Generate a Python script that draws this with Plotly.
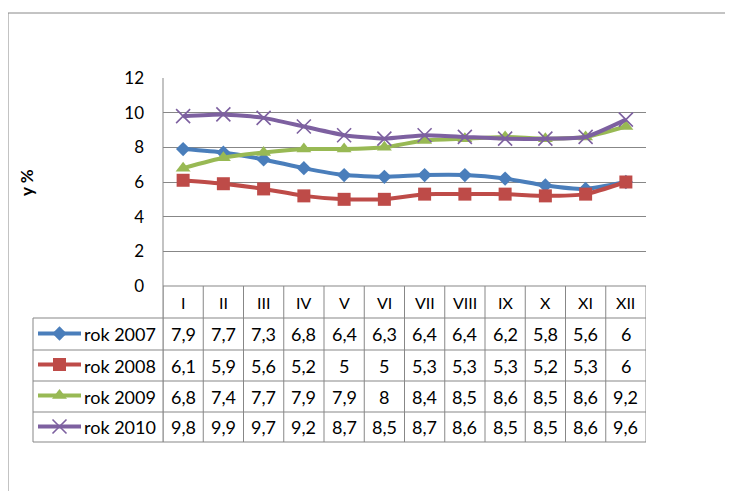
import plotly.graph_objects as go

months = ["I", "II", "III", "IV", "V", "VI", "VII", "VIII", "IX", "X", "XI", "XII"]
series_names = ["rok 2007", "rok 2008", "rok 2009", "rok 2010"]
rok_2007 = [7.9, 7.7, 7.3, 6.8, 6.4, 6.3, 6.4, 6.4, 6.2, 5.8, 5.6, 6]
rok_2008 = [6.1, 5.9, 5.6, 5.2, 5, 5, 5.3, 5.3, 5.3, 5.2, 5.3, 6]
rok_2009 = [6.8, 7.4, 7.7, 7.9, 7.9, 8, 8.4, 8.5, 8.6, 8.5, 8.6, 9.2]
rok_2010 = [9.8, 9.9, 9.7, 9.2, 8.7, 8.5, 8.7, 8.6, 8.5, 8.5, 8.6, 9.6]
y_ticks = [0, 2, 4, 6, 8, 10, 12]
y_title = "y %"

all_series = [rok_2007, rok_2008, rok_2009, rok_2010]
colors = ["#4A7EBB", "#BE4B48", "#98B954", "#7D60A0"]
symbols = ["diamond", "square", "triangle-up", "x-thin"]
sizes = [11, 13, 13, 14]

W, H = 733, 491
OFF = 8  # page body margin offset
def px(x): return (x - OFF) / W
def py(y): return 1 - (y - OFF) / H

FONT = "Lato"
GRID = "#878787"

plot_l, plot_r, plot_t, plot_b = 163, 646, 78, 286
row_edges = [286, 318, 350, 381, 412, 442]
key_l = 33

fig = go.Figure()
xs = list(range(len(months)))

for name, vals, c, sym, s in zip(series_names, all_series, colors, symbols, sizes):
    mk = dict(symbol=sym, size=s, color=c)
    if sym == "x-thin":
        mk["line"] = dict(color=c, width=1.6)
    fig.add_trace(go.Scatter(
        x=xs, y=vals, mode="lines+markers", name=name,
        line=dict(color=c, width=4, shape="spline", smoothing=0.5),
        marker=mk, showlegend=False, hoverinfo="skip",
        xaxis="x", yaxis="y"))

# legend keys inside the data table (row index on secondary axis)
for k, (name, c, sym, s) in enumerate(zip(series_names, colors, symbols, sizes)):
    fig.add_trace(go.Scatter(
        x=[5, 48], y=[k, k], mode="lines", line=dict(color=c, width=4),
        showlegend=False, hoverinfo="skip", xaxis="x2", yaxis="y2"))
    mk = dict(symbol=sym, size=s, color=c)
    if sym == "x-thin":
        mk["line"] = dict(color=c, width=1.6)
    fig.add_trace(go.Scatter(
        x=[26.5], y=[k], mode="markers", marker=mk,
        showlegend=False, hoverinfo="skip", xaxis="x2", yaxis="y2"))

shapes = []
# outer chart border
shapes.append(dict(type="rect", xref="paper", yref="paper",
                   x0=px(8), y0=py(13), x1=1.2, y1=-0.2,
                   line=dict(color="#888888", width=1)))
# table: vertical lines at category boundaries
for i in range(len(months) + 1):
    shapes.append(dict(type="line", xref="x", yref="paper",
                       x0=i - 0.5, x1=i - 0.5, y0=py(row_edges[0]), y1=py(row_edges[-1]),
                       line=dict(color=GRID, width=1)))
# left axis line continues down through table
shapes.append(dict(type="line", xref="paper", yref="paper",
                   x0=px(plot_l), x1=px(plot_l), y0=py(plot_t), y1=py(row_edges[-1]),
                   line=dict(color=GRID, width=1)))
# legend column left line
shapes.append(dict(type="line", xref="paper", yref="paper",
                   x0=px(key_l), x1=px(key_l), y0=py(row_edges[1]), y1=py(row_edges[-1]),
                   line=dict(color=GRID, width=1)))
# horizontal table lines
shapes.append(dict(type="line", xref="paper", yref="paper",
                   x0=px(plot_l), x1=px(plot_r), y0=py(row_edges[0]), y1=py(row_edges[0]),
                   line=dict(color=GRID, width=1)))
for ye in row_edges[1:]:
    shapes.append(dict(type="line", xref="paper", yref="paper",
                       x0=px(key_l), x1=px(plot_r), y0=py(ye), y1=py(ye),
                       line=dict(color=GRID, width=1)))

annotations = []
def row_center(r):
    return py((row_edges[r] + row_edges[r + 1]) / 2)

for i, m in enumerate(months):
    annotations.append(dict(x=i, y=row_center(0), xref="x", yref="paper", text=m,
                            xanchor="center", yanchor="middle",
                            showarrow=False, font=dict(family=FONT, size=16, color="#000")))
def fmt(v):
    s = ("%g" % v)
    return s.replace(".", ",")
for r, vals in enumerate(all_series):
    for i, v in enumerate(vals):
        annotations.append(dict(x=i, y=row_center(r + 1), xref="x", yref="paper", text=fmt(v),
                                xanchor="center", yanchor="middle",
                                showarrow=False, font=dict(family=FONT, size=18, color="#000")))
    annotations.append(dict(x=px(82), y=row_center(r + 1), xref="paper", yref="paper",
                            text=series_names[r], xanchor="left", yanchor="middle", showarrow=False,
                            font=dict(family=FONT, size=18, color="#000")))
annotations.append(dict(x=px(26), y=py(183), xref="paper", yref="paper", text="<b>" + y_title + "</b>",
                        xanchor="center", yanchor="middle",
                        textangle=-90, showarrow=False, font=dict(family=FONT, size=17, color="#000")))

fig.update_layout(
    template="none",
    width=W, height=H, autosize=False,
    margin=dict(l=0, r=0, t=0, b=0, pad=0),
    paper_bgcolor="white", plot_bgcolor="white",
    showlegend=False,
    xaxis=dict(domain=[px(plot_l), px(plot_r)], range=[-0.5, len(months) - 0.5],
               showticklabels=False, showgrid=False, zeroline=False, ticks="",
               showline=False, automargin=False,
               tickmode="array", tickvals=xs),
    yaxis=dict(domain=[py(plot_b), py(plot_t)], range=[0, 12], tickvals=y_ticks,
               showgrid=True, gridcolor=GRID, gridwidth=1, zeroline=False,
               showline=False, ticks="", ticklabelstandoff=18, automargin=False,
               tickfont=dict(family=FONT, size=17, color="#000")),
    xaxis2=dict(domain=[px(key_l), px(plot_l)], range=[0, 130], visible=False,
                anchor="y2", automargin=False),
    yaxis2=dict(domain=[py(row_edges[-1]), py(row_edges[1])], range=[3.5, -0.5],
                visible=False, anchor="x2", automargin=False),
    shapes=shapes, annotations=annotations,
    font=dict(family=FONT),
)

fig.write_html("out.html")
